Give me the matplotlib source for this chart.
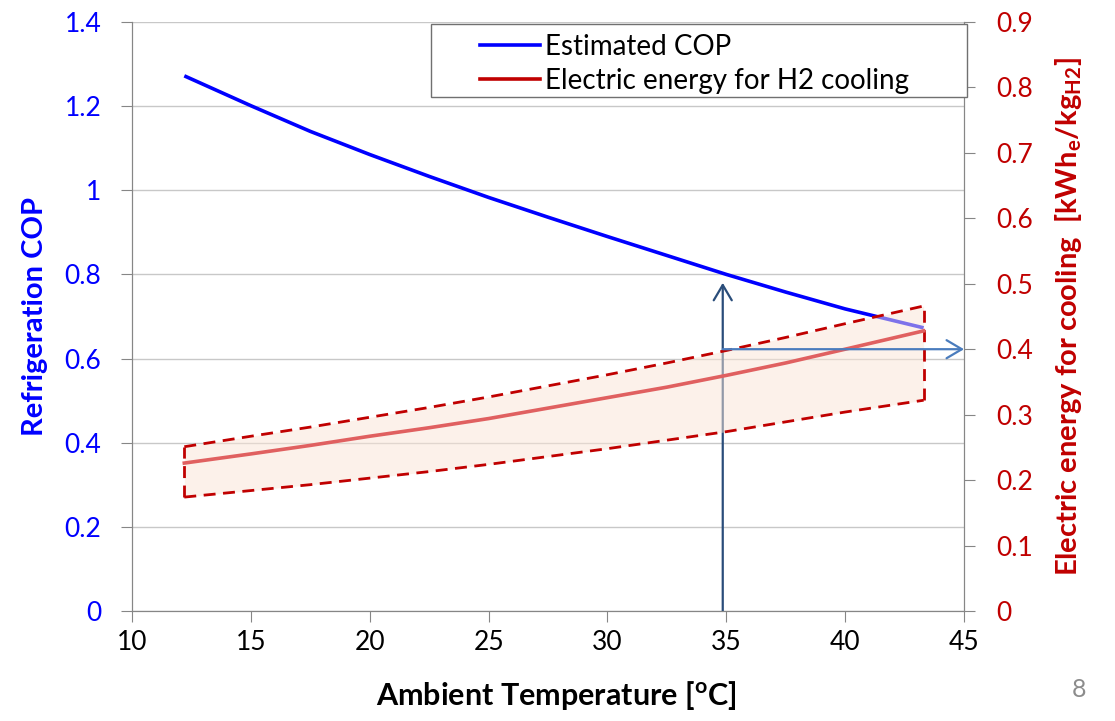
import numpy as np
import matplotlib
matplotlib.use('Agg')
import matplotlib.pyplot as plt
from matplotlib.lines import Line2D
from matplotlib.patches import Rectangle
from matplotlib.ticker import FuncFormatter

plt.rcParams['font.family'] = ['Lato', 'DejaVu Sans']
plt.rcParams['mathtext.fontset'] = 'custom'
plt.rcParams['mathtext.rm'] = 'Lato'
plt.rcParams['mathtext.bf'] = 'Lato:bold'

# Werte
temp = [12.2, 15, 17.5, 20, 22.5, 25, 27.5, 30, 32.5, 35, 37.5, 40, 43.3]
cop = [1.272, 1.201, 1.140, 1.085, 1.033, 0.983, 0.936, 0.89, 0.845, 0.80, 0.758, 0.718, 0.673]
energy_mid = [0.226, 0.240, 0.253, 0.267, 0.280, 0.294, 0.310, 0.326, 0.342, 0.360, 0.379, 0.400, 0.428]
energy_hi = [0.251, 0.267, 0.281, 0.296, 0.311, 0.327, 0.344, 0.361, 0.379, 0.398, 0.418, 0.439, 0.466]
energy_lo = [0.174, 0.184, 0.193, 0.203, 0.213, 0.224, 0.236, 0.248, 0.261, 0.274, 0.289, 0.304, 0.322]

design_temp = 34.85
design_cop = 0.78
design_energy = 0.40

blue = '#0000ff'
darkred = '#c00000'
grey = '#868686'

fig = plt.figure(figsize=(11.15, 7.21), dpi=100)
ax1 = fig.add_axes([0.1184, 0.1526, 0.7462, 0.8169])
ax2 = ax1.twinx()

# COP-Kurve
ax1.plot(temp, cop, color=blue, lw=2.6, solid_capstyle='butt', zorder=3)
ax1.set_xlim(10, 45)
ax1.set_ylim(0, 1.4)
ax1.set_xticks(np.arange(10, 46, 5))
ax1.set_yticks(np.arange(0, 1.41, 0.2))
ax1.yaxis.grid(True, color='#c8c8c8', lw=1)
ax1.set_axisbelow(True)

fmt = FuncFormatter(lambda v, p: '%g' % round(v, 2))
ax1.yaxis.set_major_formatter(fmt)

# Energie-Band
dash = (0, (4.3, 2.7))
ax2.fill_between(temp, energy_lo, energy_hi, color='#fbe5d6', alpha=0.5, lw=0, zorder=1)
ax2.plot(temp, energy_hi, color=darkred, lw=2.0, ls=dash, zorder=2)
ax2.plot(temp, energy_lo, color=darkred, lw=2.0, ls=dash, zorder=2)
for i in [0, -1]:
    ax2.plot([temp[i], temp[i]], [energy_lo[i], energy_hi[i]], color=darkred, lw=2.0,
             ls=dash, zorder=2)
ax2.plot(temp, energy_mid, color='#e06060', lw=2.6, zorder=3)
ax2.set_ylim(0, 0.9)
ax2.set_yticks(np.arange(0, 0.91, 0.1))
ax2.yaxis.set_major_formatter(fmt)

# Pfeile
ax1.annotate('', xy=(design_temp, design_cop), xytext=(design_temp, 0),
             arrowprops=dict(arrowstyle='->,head_length=1.1,head_width=0.65',
                             color='#2a4d7a', lw=1.6, shrinkA=0, shrinkB=0),
             annotation_clip=False, zorder=5)
ax2.annotate('', xy=(45, design_energy), xytext=(design_temp, design_energy),
             arrowprops=dict(arrowstyle='->,head_length=1.1,head_width=0.65',
                             color='#4a7cbd', lw=1.6, shrinkA=0, shrinkB=0),
             annotation_clip=False, zorder=5)

for ax in (ax1, ax2):
    for s in ['left', 'right', 'bottom']:
        ax.spines[s].set_color(grey)
    ax.spines['top'].set_visible(False)
    ax.tick_params(direction='out', length=8, color=grey, labelsize=19)

ax1.tick_params(axis='y', labelcolor=blue, pad=14)
ax1.tick_params(axis='x', labelcolor='black', pad=6)
ax2.tick_params(axis='y', labelcolor=darkred, pad=15)

ax1.set_xlabel(r'Ambient Temperature [$^\mathbf{o}$C]', fontsize=22, fontweight='bold')
ax1.xaxis.set_label_coords(0.51, -0.115)
ax1.set_ylabel('Refrigeration COP', fontsize=21, fontweight='bold', color=blue)
ax1.yaxis.set_label_coords(-0.101, 0.5)
ax2.set_ylabel(r'Electric energy for cooling  [kWh$_\mathbf{e}$/kg$_\mathbf{H2}$]',
               fontsize=21, fontweight='bold', color=darkred, rotation=90)
ax2.yaxis.set_label_coords(1.107, 0.5)

# Legende mit eigenem Rahmen
ax2.add_patch(Rectangle((0.359, 0.873), 0.645, 0.124, transform=ax2.transAxes,
                        facecolor='white', edgecolor='#707070', lw=1, clip_on=False, zorder=6))
handles = [Line2D([], [], color=blue, lw=2.6), Line2D([], [], color=darkred, lw=2.6)]
leg = ax2.legend(handles, ['Estimated COP', 'Electric energy for H2 cooling'],
                 loc='upper left', bbox_to_anchor=(0.418, 0.98), frameon=False,
                 fontsize=20, handlelength=2.16, handletextpad=0.18, labelspacing=0.3,
                 borderaxespad=0, borderpad=0)
leg.set_zorder(7)

fig.text(0.968, 0.043, '8', fontsize=18, color='#8c8c8c', ha='center', va='center')

fig.savefig('out.png', dpi=100)
